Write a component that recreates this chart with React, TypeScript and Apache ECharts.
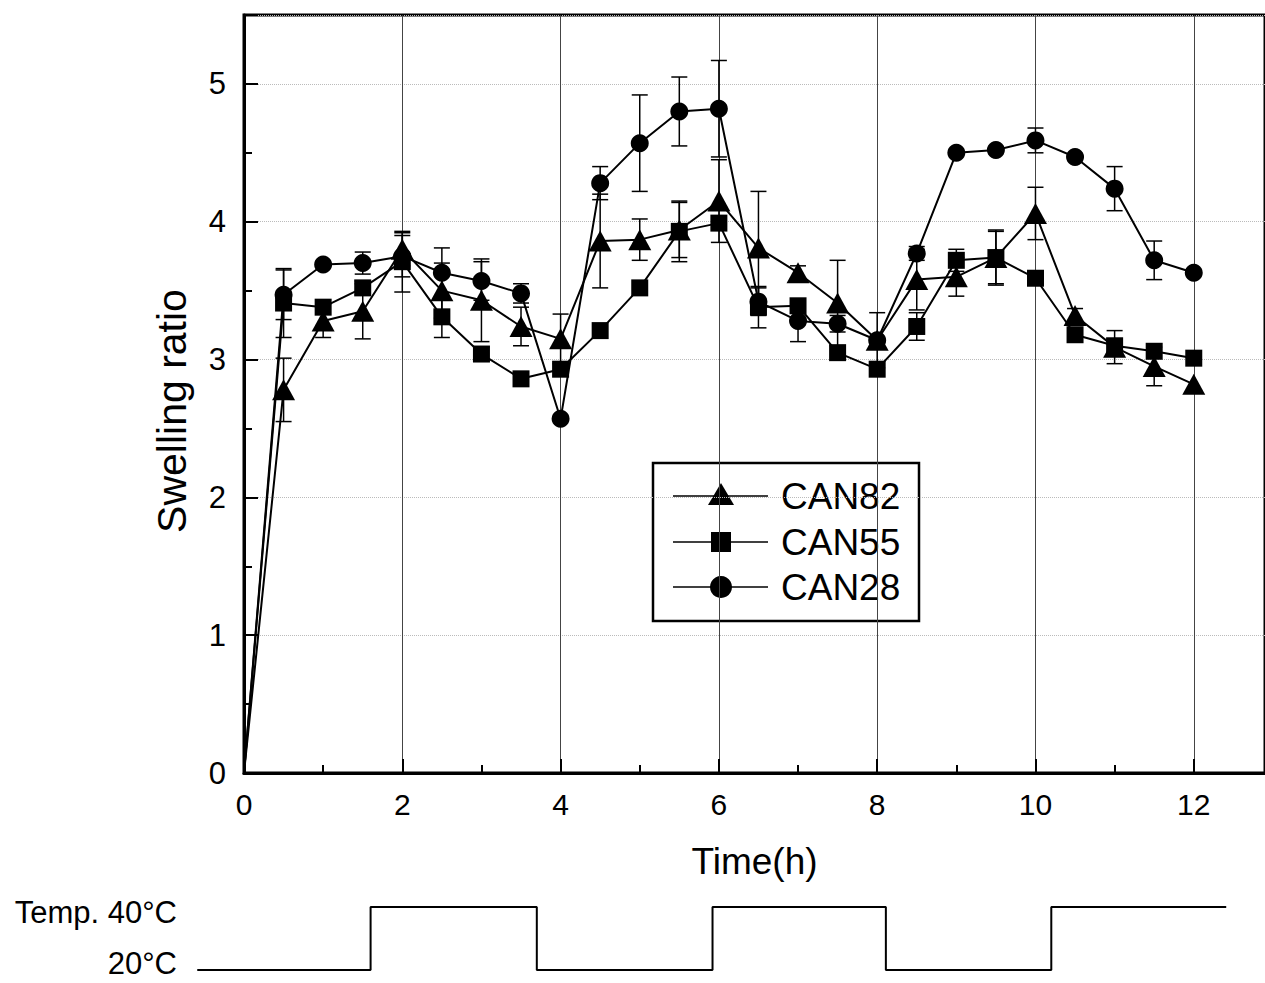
import React, { useEffect, useRef } from "react";
import * as echarts from "echarts";

const times = [0, 0.5, 1, 1.5, 2, 2.5, 3, 3.5, 4, 4.5, 5, 5.5, 6, 6.5, 7, 7.5, 8, 8.5, 9, 9.5, 10, 10.5, 11, 11.5, 12];

const can82 = [0, 2.78, 3.28, 3.35, 3.80, 3.50, 3.43, 3.24, 3.15, 3.86, 3.87, 3.94, 4.15, 3.81, 3.63, 3.41, 3.14, 3.58, 3.60, 3.74, 4.06, 3.32, 3.09, 2.95, 2.82];
const can55 = [0, 3.41, 3.38, 3.52, 3.71, 3.31, 3.04, 2.86, 2.93, 3.21, 3.52, 3.93, 3.99, 3.38, 3.39, 3.05, 2.93, 3.24, 3.72, 3.74, 3.59, 3.18, 3.10, 3.06, 3.01];
const can28 = [0, 3.47, 3.69, 3.70, 3.75, 3.63, 3.57, 3.48, 2.57, 4.28, 4.57, 4.80, 4.82, 3.42, 3.28, 3.26, 3.14, 3.77, 4.50, 4.52, 4.59, 4.47, 4.24, 3.72, 3.63];

const err82 = [0, 0.23, 0.12, 0.2, 0.12, 0.2, 0.3, 0.14, 0.18, 0.34, 0.15, 0.2, 0.3, 0.41, 0.05, 0.31, 0.2, 0.22, 0.14, 0.19, 0.19, 0.05, 0.12, 0.14, 0];
const err55 = [0, 0.25, 0, 0.05, 0.22, 0.15, 0.05, 0, 0, 0, 0, 0.22, 0, 0.15, 0, 0, 0, 0.1, 0.08, 0.2, 0, 0, 0.05, 0, 0];
const err28 = [0, 0.18, 0, 0.08, 0.15, 0.18, 0.14, 0.07, 0, 0.12, 0.35, 0.25, 0.35, 0.1, 0.15, 0.06, 0, 0.05, 0, 0, 0.09, 0, 0.16, 0.14, 0];

const seriesNames = ["CAN82", "CAN55", "CAN28"];

const tempTimes = [-0.59, 1.6, 3.7, 5.92, 8.11, 10.2, 12.41];
const tempValues = [20, 40, 20, 40, 20, 40, 40];
const tempLabels = ["Temp. 40°C", "20°C"];

const FONT = "'Liberation Sans', Arial, Helvetica, sans-serif";

function lineData(vals: number[]) {
  return vals.map((v, i) => (i === 0 ? { value: [times[i], v], symbol: "none" } : { value: [times[i], v] }));
}

function errData(vals: number[], errs: number[]) {
  return vals.map((v, i) => [times[i], v, errs[i]]);
}

function errRender(params: any, api: any) {
  const x = api.value(0);
  const v = api.value(1);
  const e = api.value(2);
  if (!e) return { type: "group", children: [] };
  const top = api.coord([x, v + e]);
  const bot = api.coord([x, v - e]);
  const hw = 8;
  const st = { stroke: "#000", lineWidth: 1.5 };
  return {
    type: "group",
    children: [
      { type: "line", shape: { x1: top[0], y1: top[1], x2: bot[0], y2: bot[1] }, style: st },
      { type: "line", shape: { x1: top[0] - hw, y1: top[1], x2: top[0] + hw, y2: top[1] }, style: st },
      { type: "line", shape: { x1: bot[0] - hw, y1: bot[1], x2: bot[0] + hw, y2: bot[1] }, style: st },
    ],
  };
}

export default function App() {
  const ref = useRef<HTMLDivElement>(null);
  useEffect(() => {
    document.body.style.margin = "0";
    const chart = echarts.init(ref.current!, null, { renderer: "svg" });

    const lx = 653, ly = 463, lw = 266, lh = 158;
    const rows = [496, 542, 587];
    const mx = 721;
    const legendChildren: any[] = [
      { type: "rect", shape: { x: lx, y: ly, width: lw, height: lh }, style: { fill: "#fff", stroke: "#000", lineWidth: 2.5 } },
    ];
    rows.forEach((ry, i) => {
      legendChildren.push({ type: "line", shape: { x1: 673, y1: ry, x2: 768, y2: ry }, style: { stroke: "#000", lineWidth: 1.5 } });
      if (i === 0) {
        legendChildren.push({ type: "polygon", shape: { points: [[mx, ry - 13], [mx + 13, ry + 9], [mx - 13, ry + 9]] }, style: { fill: "#000" } });
      } else if (i === 1) {
        legendChildren.push({ type: "rect", shape: { x: mx - 10, y: ry - 10, width: 20, height: 20 }, style: { fill: "#000" } });
      } else {
        legendChildren.push({ type: "circle", shape: { cx: mx, cy: ry, r: 11 }, style: { fill: "#000" } });
      }
      legendChildren.push({
        type: "text",
        x: 781,
        y: ry,
        style: { text: seriesNames[i], fontSize: 37, fontFamily: FONT, fill: "#000", verticalAlign: "middle", align: "left" },
      });
    });

    const option: any = {
      animation: false,
      backgroundColor: "#fff",
      grid: [
        { left: 244, top: 15, right: 0, bottom: 210, show: true, borderColor: "#000", borderWidth: 3, backgroundColor: "transparent" },
        { left: 164.8, top: 907, right: 0, height: 63 },
      ],
      xAxis: [
        {
          type: "value",
          gridIndex: 0,
          min: 0,
          max: 12.9,
          interval: 2,
          axisLine: { show: true, onZero: false, lineStyle: { color: "#000", width: 3 } },
          axisTick: { show: true, inside: true, length: 14, lineStyle: { color: "#000", width: 2 } },
          minorTick: { show: true, splitNumber: 2, length: 8, lineStyle: { color: "#000", width: 2 } },
          axisLabel: { fontSize: 30, fontFamily: FONT, color: "#000", margin: 16, showMaxLabel: false },
          splitLine: { show: true, lineStyle: { color: "#444", width: 1 } },
          name: "Time(h)",
          nameLocation: "middle",
          nameGap: 70,
          nameTextStyle: { fontSize: 37, fontFamily: FONT, color: "#000" },
        },
        { type: "value", gridIndex: 1, min: -1, max: 12.9, show: false },
      ],
      yAxis: [
        {
          type: "value",
          gridIndex: 0,
          min: 0,
          max: 5.5,
          interval: 1,
          axisLine: { show: true, onZero: false, lineStyle: { color: "#000", width: 3 } },
          axisTick: { show: true, inside: true, length: 14, lineStyle: { color: "#000", width: 2 } },
          minorTick: { show: true, splitNumber: 2, length: 8, lineStyle: { color: "#000", width: 2 } },
          axisLabel: { fontSize: 31, fontFamily: FONT, color: "#000", margin: 18, showMaxLabel: false },
          splitLine: { show: true, lineStyle: { color: "#bbb", width: 1, type: "dotted" } },
          name: "Swelling ratio",
          nameLocation: "middle",
          nameGap: 52,
          nameTextStyle: { fontSize: 41, fontFamily: FONT, color: "#000", padding: [0, 34, 0, 0] },
        },
        { type: "value", gridIndex: 1, min: 20, max: 40, show: false },
      ],
      series: [
        {
          type: "custom", name: "err82", xAxisIndex: 0, yAxisIndex: 0, renderItem: errRender,
          data: errData(can82, err82), encode: { x: 0, y: 1 }, z: 3,
        },
        {
          type: "custom", name: "err55", xAxisIndex: 0, yAxisIndex: 0, renderItem: errRender,
          data: errData(can55, err55), encode: { x: 0, y: 1 }, z: 3,
        },
        {
          type: "custom", name: "err28", xAxisIndex: 0, yAxisIndex: 0, renderItem: errRender,
          data: errData(can28, err28), encode: { x: 0, y: 1 }, z: 3,
        },
        {
          type: "line", name: "CAN82", xAxisIndex: 0, yAxisIndex: 0, data: lineData(can82),
          symbol: "triangle", symbolSize: [23, 21], showAllSymbol: true,
          lineStyle: { color: "#000", width: 2 }, itemStyle: { color: "#000" }, z: 4,
        },
        {
          type: "line", name: "CAN55", xAxisIndex: 0, yAxisIndex: 0, data: lineData(can55),
          symbol: "rect", symbolSize: 17, showAllSymbol: true,
          lineStyle: { color: "#000", width: 2 }, itemStyle: { color: "#000" }, z: 4,
        },
        {
          type: "line", name: "CAN28", xAxisIndex: 0, yAxisIndex: 0, data: lineData(can28),
          symbol: "circle", symbolSize: 18, showAllSymbol: true,
          lineStyle: { color: "#000", width: 2 }, itemStyle: { color: "#000" }, z: 4,
        },
        {
          type: "line", name: "Temp", xAxisIndex: 1, yAxisIndex: 1, step: "end", clip: false,
          data: tempTimes.map((t, i) => [t, tempValues[i]]), symbol: "none",
          lineStyle: { color: "#000", width: 2 },
        },
      ],
      graphic: [
        { type: "group", z: 100, children: legendChildren },
        {
          type: "text", x: 177, y: 912,
          style: { text: tempLabels[0], fontSize: 31, fontFamily: FONT, fill: "#000", align: "right", verticalAlign: "middle" },
        },
        {
          type: "text", x: 177, y: 963,
          style: { text: tempLabels[1], fontSize: 31, fontFamily: FONT, fill: "#000", align: "right", verticalAlign: "middle" },
        },
      ],
    };
    chart.setOption(option);
    return () => chart.dispose();
  }, []);
  return <div ref={ref} style={{ width: 1265, height: 983 }} />;
}
